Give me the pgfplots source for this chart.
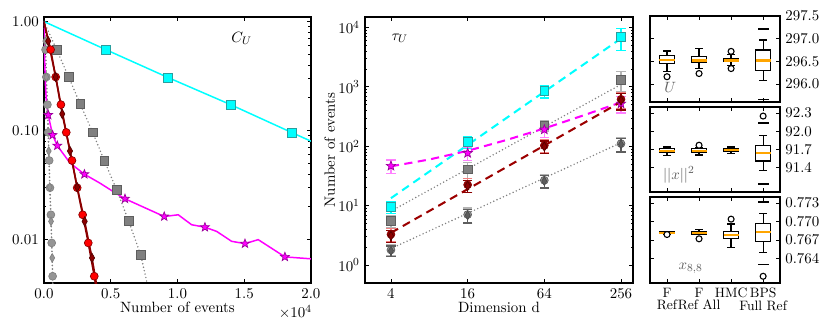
\documentclass[border=0pt]{standalone}
\usepackage{pgfplots}
\pgfplotsset{compat=1.18}
\usepgfplotslibrary{statistics}
\definecolor{cyanc}{HTML}{00FFFF}
\definecolor{cyanedge}{HTML}{2A9E9E}
\definecolor{magc}{HTML}{FF00FF}
\definecolor{magedge}{HTML}{9A009A}
\definecolor{darkred}{HTML}{8B0000}
\definecolor{redc}{HTML}{FF0000}
\definecolor{grayc}{HTML}{808080}
\definecolor{graydk}{HTML}{5E5E5E}
\definecolor{graylt}{HTML}{959595}
\definecolor{errgray}{HTML}{B4B4B4}
\definecolor{errred}{HTML}{F08080}
\definecolor{errmag}{HTML}{FF80FF}
\definecolor{orangec}{HTML}{FFA500}
\definecolor{labgray}{HTML}{606060}

\pgfdeclareplotmark{fstar}{%
  \pgfpathmoveto{\pgfpointpolar{90}{\pgfplotmarksize}}%
  \pgfpathlineto{\pgfpointpolar{126}{0.42*\pgfplotmarksize}}%
  \pgfpathlineto{\pgfpointpolar{162}{\pgfplotmarksize}}%
  \pgfpathlineto{\pgfpointpolar{198}{0.42*\pgfplotmarksize}}%
  \pgfpathlineto{\pgfpointpolar{234}{\pgfplotmarksize}}%
  \pgfpathlineto{\pgfpointpolar{270}{0.42*\pgfplotmarksize}}%
  \pgfpathlineto{\pgfpointpolar{306}{\pgfplotmarksize}}%
  \pgfpathlineto{\pgfpointpolar{342}{0.42*\pgfplotmarksize}}%
  \pgfpathlineto{\pgfpointpolar{18}{\pgfplotmarksize}}%
  \pgfpathlineto{\pgfpointpolar{54}{0.42*\pgfplotmarksize}}%
  \pgfpathclose
  \pgfusepathqfillstroke
}

\pgfplotsset{
  mpl/.style={scale only axis, anchor=south west,
    axis line style={line width=1.3pt},
    tick style={black, line width=0.6pt},
    major tick length=3.2pt, minor tick length=1.8pt},
  fitdash/.style={line width=1.5pt, dash pattern=on 6pt off 4pt},
  fitdot/.style={line width=1.2pt, dash pattern=on 0pt off 2.6pt, line cap=round},
  ebar/.style={error bars/.cd, y dir=both, y explicit,
    error bar style={#1, line width=1pt},
    error mark options={#1, line width=1pt, mark size=3.5pt, rotate=90}},
  boxax/.style={mpl, width=95.6pt, xmin=0.47, xmax=4.53, xtick={1,2,3,4},
    yticklabel pos=right, scaled y ticks=false},
  bx/.style={black, line width=0.9pt, mark=*, mark size=2.2pt,
    mark options={fill=white, draw=black, line width=0.8pt},
    boxplot/draw direction=y,
    boxplot/box extend=0.47, boxplot/whisker extend=0.25,
    boxplot/every box/.style={draw=black, fill=white},
    boxplot/every median/.style={draw=orangec, line width=1.6pt}},
  flier/.style={only marks, mark=-, mark size=4pt, black, line width=1.2pt},
}

\begin{document}
\fontsize{10.95}{13.6}\selectfont
\begin{tikzpicture}

% autocorrelation
\begin{axis}[mpl, at={(0pt,0pt)}, width=196.2pt, height=195.5pt,
  xmin=0, xmax=2, ymode=log, ymin=0.004, ymax=1.1,
  xtick={0,0.5,1,1.5,2}, xticklabels={0.0,0.5,1.0,1.5,2.0},
  ytick={0.01,0.1,1}, yticklabels={0.01,0.10,1.00},
  xlabel={Number of events}, xlabel style={yshift=5pt}]
\addplot[cyanc, line width=1.1pt, mark=square*, mark size=3.2pt,
  mark options={fill=cyanc, draw=cyanedge, line width=0.6pt}, mark indices={2,3,4,5}]
  coordinates {(0,1.0)(0.464,0.552)(0.931,0.306)(1.398,0.173)(1.860,0.0955)(2.0,0.080)};
\addplot[grayc, fitdot, mark=square*, mark size=3.2pt,
  mark options={solid, fill=grayc, draw=graydk, line width=0.5pt}, mark indices={2,3,4,5,6,7,8,9}]
  coordinates {(0,1)(0.095,0.552)(0.185,0.310)(0.272,0.175)(0.365,0.0963)(0.453,0.0526)(0.545,0.0286)(0.634,0.0149)(0.724,0.0073)(0.775,0.0039)};
\addplot[grayc, fitdot, mark=*, mark size=2.9pt,
  mark options={solid, fill=graylt, draw=grayc, line width=0.5pt}, mark indices={2,3,4,5,6,7,8,9,10}]
  coordinates {(0,1)(0.012,0.552)(0.018,0.310)(0.026,0.173)(0.032,0.0963)(0.039,0.0532)(0.045,0.0299)(0.052,0.0169)(0.058,0.00933)(0.065,0.00462)(0.068,0.0035)};
\addplot[grayc, fitdot, mark=diamond*, mark size=3.2pt,
  mark options={solid, fill=graylt, draw=grayc, line width=0.5pt, xscale=0.75}, mark indices={2,3,4,5,6,7,8}]
  coordinates {(0,1)(0.010,0.661)(0.018,0.310)(0.028,0.142)(0.036,0.065)(0.043,0.0303)(0.053,0.0147)(0.062,0.0068)(0.067,0.0035)};
\addplot[magc, line width=1.1pt, mark=fstar, mark size=3.4pt,
  mark options={fill=magc, draw=magedge, line width=0.5pt}, mark indices={5,6,7,9,12,13,16,19,21}]
  coordinates {(0,1)(0.005,0.45)(0.012,0.25)(0.02,0.17)(0.032,0.139)(0.065,0.091)(0.10,0.0727)(0.195,0.0505)(0.303,0.0398)(0.419,0.033)(0.519,0.0276)(0.607,0.0237)(0.901,0.0163)(1.006,0.0169)(1.106,0.0137)(1.206,0.0130)(1.294,0.0119)(1.406,0.00965)(1.506,0.00919)(1.605,0.0100)(1.805,0.00695)(2.0,0.00667)};
\addplot[darkred, line width=1.2pt, mark=*, mark size=2.9pt,
  mark options={fill=redc, draw=darkred, line width=0.5pt}, mark indices={2,3,4,5,6,7,8,9,10}]
  coordinates {(0,1)(0.050,0.552)(0.088,0.310)(0.127,0.173)(0.167,0.0963)(0.210,0.0532)(0.249,0.0299)(0.290,0.0169)(0.332,0.00933)(0.377,0.00462)(0.392,0.0035)};
\addplot[darkred, line width=1.2pt, mark=diamond*, mark size=3.4pt,
  mark options={fill=darkred, draw=black!40!darkred, line width=0.5pt, xscale=0.75}, mark indices={2,3,4,5,6,7,8}]
  coordinates {(0,1)(0.032,0.661)(0.088,0.310)(0.137,0.142)(0.195,0.065)(0.249,0.0303)(0.305,0.0147)(0.360,0.0068)(0.400,0.0035)};
\node at (rel axis cs:0.74,0.92) {$C_U$};
\end{axis}
\node[anchor=north east, inner sep=0pt] at (197pt,-16pt) {$\times10^{4}$};

% integrated autocorrelation time vs dimension
\begin{axis}[mpl, at={(235.9pt,0pt)}, width=197pt, height=195.5pt,
  xmode=log, log basis x=2, xmin=2.5, xmax=318, xminorticks=false,
  ymode=log, ymin=0.5, ymax=15000,
  xtick={4,16,64,256}, xticklabels={4,16,64,256},
  ytick={1,10,100,1000,10000},
  xlabel={Dimension d}, xlabel style={yshift=5pt},
  ylabel={Number of events}, ylabel style={yshift=-5pt}]
\addplot[cyanc, fitdash] coordinates {(4,13.4)(256,6530)};
\addplot[grayc, fitdot] coordinates {(4,8.1)(256,1100)};
\addplot[magc, fitdash] coordinates {(4,46)(8,60)(16,84)(32,127)(64,200)(128,328)(256,551)};
\addplot[darkred!85!red, fitdash] coordinates {(4,3.5)(256,560)};
\addplot[grayc, fitdot] coordinates {(4,1.9)(256,115)};

\addplot[only marks, mark=square*, mark size=3.2pt,
  mark options={fill=cyanc, draw=cyanedge, line width=0.5pt}, ebar=cyanc]
  coordinates {(4,9.5) +- (0,2.1) (16,118) +- (0,26) (64,850) +- (0,200) (256,6870) +- (0,2800)};
\addplot[only marks, mark=square*, mark size=3.2pt,
  mark options={fill=grayc, draw=graydk, line width=0.5pt}, ebar=errgray]
  coordinates {(4,5.56) +- (0,1.3) (16,41) +- (0,12) (64,225) +- (0,45) (256,1322) +- (0,500)};
\addplot[only marks, mark=*, mark size=2.9pt,
  mark options={fill=graylt, draw=graydk, line width=0.5pt}, ebar=errgray]
  coordinates {(4,1.8) +- (0,0.38) (16,7.1) +- (0,2.0) (64,26.8) +- (0,6.5) (256,111) +- (0,30)};
\addplot[only marks, mark=diamond*, mark size=3.3pt,
  mark options={fill=graydk, draw=black!70, line width=0.5pt, xscale=0.75}, ebar=graydk]
  coordinates {(4,1.75) +- (0,0.35) (16,6.9) +- (0,1.8) (64,26) +- (0,6) (256,108) +- (0,28)};
\addplot[only marks, mark=fstar, mark size=3.6pt,
  mark options={fill=magc, draw=magedge, line width=0.5pt}, ebar=errmag]
  coordinates {(4,46.7) +- (0,12) (16,77) +- (0,20) (64,191) +- (0,50) (256,522) +- (0,160)};
\addplot[only marks, mark=*, mark size=2.9pt,
  mark options={fill=red!55!black, draw=darkred, line width=0.5pt}, ebar=errred]
  coordinates {(4,3.3) +- (0,0.8) (16,22.5) +- (0,6) (64,103) +- (0,25) (256,620) +- (0,190)};
\addplot[only marks, mark=diamond*, mark size=3.4pt,
  mark options={fill=darkred, draw=black!40!darkred, line width=0.5pt, xscale=0.75}, ebar=darkred]
  coordinates {(4,3.1) +- (0,0.7) (16,21.5) +- (0,5) (64,99) +- (0,24) (256,590) +- (0,180)};
\node at (rel axis cs:0.13,0.92) {$\tau_U$};
\end{axis}

% boxplots: U
\begin{axis}[boxax, at={(445.4pt,133pt)}, height=63.2pt,
  ymin=295.6, ymax=297.5, ytick={296,296.5,297,297.5}, xticklabels={},
  yticklabel style={/pgf/number format/.cd, fixed, fixed zerofill, precision=1}]
\addplot[bx, boxplot prepared={draw position=1, lower whisker=296.28, lower quartile=296.46,
  median=296.53, upper quartile=296.62, upper whisker=296.73}] coordinates {(1,296.16)};
\addplot[bx, boxplot prepared={draw position=2, lower whisker=296.34, lower quartile=296.47,
  median=296.52, upper quartile=296.60, upper whisker=296.79}] coordinates {(2,296.23)};
\addplot[bx, boxplot prepared={draw position=3, lower whisker=296.41, lower quartile=296.49,
  median=296.52, upper quartile=296.57, upper whisker=296.65}] coordinates {(3,296.72)(3,296.34)};
\addplot[bx, boxplot prepared={draw position=4, lower whisker=296.07, lower quartile=296.30,
  median=296.52, upper quartile=296.75, upper whisker=296.97}] coordinates {};
\addplot[flier] coordinates {(4,297.21)(4,295.66)};
\node[labgray, anchor=west] at (rel axis cs:0.07,0.17) {$U$};
\end{axis}

% boxplots: ||x||^2
\begin{axis}[boxax, at={(445.4pt,66.9pt)}, height=62.5pt,
  ymin=91.0, ymax=92.4, ytick={91.4,91.7,92.0,92.3}, xticklabels={},
  yticklabel style={/pgf/number format/.cd, fixed, fixed zerofill, precision=1}]
\addplot[bx, boxplot prepared={draw position=1, lower whisker=91.60, lower quartile=91.65,
  median=91.67, upper quartile=91.71, upper whisker=91.74}] coordinates {};
\addplot[bx, boxplot prepared={draw position=2, lower whisker=91.61, lower quartile=91.66,
  median=91.68, upper quartile=91.71, upper whisker=91.73}] coordinates {(2,91.77)};
\addplot[bx, boxplot prepared={draw position=3, lower whisker=91.63, lower quartile=91.67,
  median=91.69, upper quartile=91.72, upper whisker=91.74}] coordinates {};
\addplot[bx, boxplot prepared={draw position=4, lower whisker=91.35, lower quartile=91.51,
  median=91.64, upper quartile=91.77, upper whisker=91.93}] coordinates {(4,92.25)};
\addplot[flier] coordinates {(4,92.14)(4,91.13)};
\node[labgray, anchor=west] at (rel axis cs:0.06,0.2) {$||x||^2$};
\end{axis}

% boxplots: x_{8,8}
\begin{axis}[boxax, at={(445.4pt,0pt)}, height=63.2pt,
  ymin=0.760, ymax=0.774, ytick={0.764,0.767,0.770,0.773},
  xticklabels={{F\\[-3pt]Ref},{F\\[-3pt]Ref All},{HMC},{BPS\\[-3pt]Full Ref}},
  xticklabel style={align=center, text depth=0pt, font=\fontsize{10}{12}\selectfont},
  yticklabel style={/pgf/number format/.cd, fixed, fixed zerofill, precision=3}]
\addplot[bx, boxplot prepared={draw position=1, lower whisker=0.7680, lower quartile=0.7681,
  median=0.7682, upper quartile=0.7683, upper whisker=0.7684}] coordinates {(1,0.7679)};
\addplot[bx, boxplot prepared={draw position=2, lower whisker=0.7679, lower quartile=0.7680,
  median=0.7682, upper quartile=0.7684, upper whisker=0.7687}] coordinates {(2,0.7672)};
\addplot[bx, boxplot prepared={draw position=3, lower whisker=0.7658, lower quartile=0.7672,
  median=0.7678, upper quartile=0.7684, upper whisker=0.7696}] coordinates {(3,0.7704)};
\addplot[bx, boxplot prepared={draw position=4, lower whisker=0.7650, lower quartile=0.7667,
  median=0.7683, upper quartile=0.7697, upper whisker=0.7713}] coordinates {(4,0.7611)};
\addplot[flier] coordinates {(4,0.7732)(4,0.7630)};
\node[labgray, anchor=west] at (rel axis cs:0.18,0.17) {$x_{8,8}$};
\end{axis}

\pgfresetboundingbox
\useasboundingbox (-32.3pt,-36pt) rectangle (578.4pt,208pt);
\end{tikzpicture}
\end{document}
